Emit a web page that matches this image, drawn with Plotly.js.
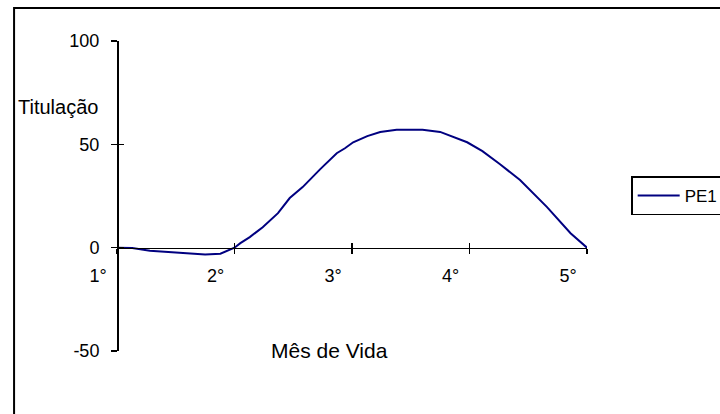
<!DOCTYPE html>
<html>
<head>
<meta charset="utf-8">
<script src="https://cdn.plot.ly/plotly-3.0.1.min.js"></script>
<style>
  html, body { margin: 0; padding: 0; background: #ffffff; }
  #chart { width: 720px; height: 414px; }
</style>
</head>
<body>
<div id="chart"></div>
<script>
// Titre of PE1 across the first months of life
const months = [1.00, 1.13, 1.28, 1.45, 1.62, 1.75, 1.88, 2.00, 2.05, 2.13,
                2.24, 2.37, 2.47, 2.58, 2.73, 2.87, 2.94, 3.01, 3.13, 3.24,
                3.38, 3.60, 3.75, 3.98, 4.11, 4.26, 4.43, 4.66, 4.86, 5.00];
const titres = [0, -0.2, -1.5, -2.2, -2.7, -3.3, -2.9, 0, 2.2, 5.1,
                9.9, 16.7, 24, 29.3, 38, 45.7, 48.1, 51, 54, 56,
                57, 57, 56, 51, 46.7, 40.4, 32.7, 19.6, 7, 0];
const seriesName = 'PE1';
const monthTicks = [1, 2, 3, 4, 5];
const monthLabels = ['1°', '2°', '3°', '4°', '5°'];
const titreTicks = [-50, 0, 50, 100];
const titreLabels = ['-50', '0', '50', '100'];
const xTitle = 'Mês de Vida';
const yTitle = 'Titulação';

const FONT = 'Liberation Sans, Arial, sans-serif';
const FS = 18;
const yRange = [-50, 100];
const zeroPos = (0 - yRange[0]) / (yRange[1] - yRange[0]);

const traces = [
  {
    x: months, y: titres, name: seriesName,
    type: 'scatter', mode: 'lines',
    line: { color: '#000080', width: 2 },
    hoverinfo: 'x+y'
  },
  // empty trace so the overlay axes (other half of the crossing ticks) are drawn
  { x: [], y: [], xaxis: 'x2', yaxis: 'y2', showlegend: false, hoverinfo: 'skip' }
];

const axisCommon = {
  showgrid: false, zeroline: false, fixedrange: true,
  tickcolor: '#000', tickwidth: 1.5
};

const layout = {
  width: 720, height: 414,
  margin: { l: 117, r: 133, t: 41, b: 63, autoexpand: false },
  paper_bgcolor: '#ffffff', plot_bgcolor: 'rgba(0,0,0,0)',
  font: { family: FONT, size: FS, color: '#000' },
  showlegend: true,
  xaxis: Object.assign({}, axisCommon, {
    range: [1, 5], anchor: 'free', position: zeroPos,
    showline: true, linecolor: '#000', linewidth: 1.5,
    ticks: 'outside', ticklen: 5,
    tickmode: 'array', tickvals: monthTicks, ticktext: monthLabels,
    ticklabelshift: -19, ticklabelstandoff: 6,
    tickfont: { family: FONT, size: FS, color: '#000' }
  }),
  xaxis2: Object.assign({}, axisCommon, {
    range: [1, 5], overlaying: 'x', anchor: 'free', position: zeroPos,
    showline: false, ticks: 'inside', ticklen: 5,
    tickmode: 'array', tickvals: monthTicks, showticklabels: false
  }),
  yaxis: Object.assign({}, axisCommon, {
    range: yRange, anchor: 'free', position: 0,
    showline: true, linecolor: '#000', linewidth: 1.5,
    ticks: 'outside', ticklen: 6,
    tickmode: 'array', tickvals: titreTicks, ticktext: titreLabels,
    ticklabelstandoff: 8,
    tickfont: { family: FONT, size: FS, color: '#000' }
  }),
  yaxis2: Object.assign({}, axisCommon, {
    range: yRange, overlaying: 'y', anchor: 'free', position: 0, side: 'left',
    showline: false, ticks: 'inside', ticklen: 6,
    tickmode: 'array', tickvals: titreTicks, showticklabels: false
  }),
  legend: {
    x: 1.094, xanchor: 'left', y: 0.563, yanchor: 'top',
    bgcolor: '#ffffff', bordercolor: '#000', borderwidth: 1.5,
    itemwidth: 42,
    font: { family: FONT, size: 17, color: '#000' }
  },
  annotations: [
    { text: yTitle, xref: 'paper', yref: 'paper', x: -0.215, y: 0.787,
      xanchor: 'left', yanchor: 'middle', showarrow: false,
      font: { family: FONT, size: 20, color: '#000' } },
    { text: xTitle, xref: 'paper', yref: 'paper', x: 0.453, y: 0.003,
      xanchor: 'center', yanchor: 'middle', showarrow: false,
      font: { family: FONT, size: 21, color: '#000' } }
  ],
  shapes: [
    // chart-area border
    { type: 'rect', xref: 'paper', yref: 'paper',
      x0: -0.219, x1: 1.35, y0: -0.3, y1: 1.1065,
      line: { color: '#000', width: 2 }, fillcolor: 'rgba(0,0,0,0)', layer: 'below' }
  ]
};

Plotly.newPlot('chart', traces, layout, { staticPlot: true, displayModeBar: false });
</script>
</body>
</html>
